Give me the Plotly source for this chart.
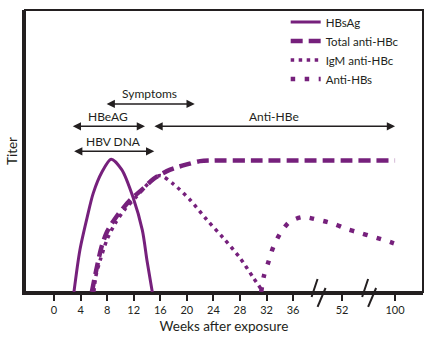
import plotly.graph_objects as go

# ---- data (weeks after exposure, relative titer) ----
hbsag_weeks = [3.0, 3.9, 5.0, 5.9, 7.2, 8.6, 10.2, 11.9, 13.3, 14.0, 14.8]
hbsag_titer = [0, 32, 57, 75, 91, 101, 93, 72, 47, 24, 0]

total_hbc_weeks = [5.7, 6.5, 7.2, 8.0, 9.5, 11.5, 13.5, 15.0, 17.5, 20.0, 22.0, 24.0, 30.0, 100.0]
total_hbc_titer = [0, 20, 35, 46, 58, 70, 79, 86, 93, 97, 99.5, 100, 100, 100]

igm_hbc_weeks = [6.0, 6.3, 7.0, 8.0, 9.2, 10.7, 12.5, 14.5, 16.0, 18.0, 20.5, 23.0, 25.5, 28.0, 30.0, 31.5]
igm_hbc_titer = [0, 12, 25, 40, 52, 63, 73, 84, 88.5, 82, 70, 55, 41, 26, 11, 0]

anti_hbs_weeks = [31.2, 31.6, 32.3, 33.0, 34.0, 35.4, 39.0, 44.0, 49.0, 56.0, 68.0, 80.0, 92.0, 99.0]
anti_hbs_titer = [0, 12, 23, 34, 44, 53, 57, 55, 52, 48, 45, 42, 39, 37]

# marker periods: label, start week, end week, level
period_labels = ["Symptoms", "HBeAG", "Anti-HBe", "HBV DNA"]
period_start = [7.7, 2.6, 14.9, 2.8]
period_end = [21.2, 13.7, 100.0, 15.1]
period_level = [143, 126, 126, 107]

tick_weeks = [0, 4, 8, 12, 16, 20, 24, 28, 32, 36, 52, 100]
break_weeks = [44.0, 75.6]

PURPLE = "#76207c"
INK = "#231f20"
FONT = "Lato"
PLOT_H = 283.0  # plot-area height in px, used for break-mark sizing


# broken time axis: linear to 36 weeks, compressed after
def axis_pos(w):
    if w <= 36:
        return w
    if w <= 52:
        return 36 + (w - 36) * (43.38 - 36) / 16
    return 43.38 + (w - 52) * (51.36 - 43.38) / 48


def to_axis(weeks):
    return [axis_pos(w) for w in weeks]


fig = go.Figure()

series = [
    ("HBsAg", hbsag_weeks, hbsag_titer, "solid", 3),
    ("Total anti-HBc", total_hbc_weeks, total_hbc_titer, "12px,6px", 4.5),
    ("IgM anti-HBc", igm_hbc_weeks, igm_hbc_titer, "3.5px,4.5px", 3.5),
    ("Anti-HBs", anti_hbs_weeks, anti_hbs_titer, "4.5px,9.5px", 4.5),
]
for name, wx, ty, dash, width in series:
    fig.add_trace(go.Scatter(
        x=to_axis(wx), y=ty, name=name, mode="lines",
        line=dict(color=PURPLE, width=width, dash=dash, shape="spline", smoothing=0.8),
        cliponaxis=False,
    ))

# double-headed period arrows with labels
for label, s, e, lvl in zip(period_labels, period_start, period_end, period_level):
    fig.add_annotation(
        x=axis_pos(e), y=lvl, ax=axis_pos(s), ay=lvl,
        xref="x", yref="y", axref="x", ayref="y",
        text="", showarrow=True, arrowside="end+start",
        arrowhead=2, arrowsize=1.1, arrowwidth=1.5, arrowcolor=INK,
    )
    fig.add_annotation(
        x=(axis_pos(s) + axis_pos(e)) / 2, y=lvl, xref="x", yref="y",
        text=label, showarrow=False, yshift=10,
        font=dict(family=FONT, size=12, color=INK),
    )

# axis break marks: a pair of slanted strokes at each gap
px_x = 1 / 6.639  # axis units per pixel (horizontal)
for bw in break_weeks:
    c = axis_pos(bw)
    for dx0, dx1, dy0, dy1 in [(-6, 0, -5, 13), (0, 8, -15, 4)]:
        fig.add_shape(
            type="line", xref="x", yref="paper",
            x0=c + dx0 * px_x, x1=c + dx1 * px_x,
            y0=dy0 / PLOT_H, y1=dy1 / PLOT_H,
            line=dict(color=INK, width=2),
        )

# thin top/right frame
fig.add_shape(type="rect", xref="paper", yref="paper", x0=0, x1=1, y0=0, y1=1,
              line=dict(color=INK, width=2), layer="below")

fig.update_xaxes(
    range=[-4.37, 55.57], showgrid=False, zeroline=False,
    showline=True, linewidth=3, linecolor=INK,
    tickmode="array", tickvals=to_axis(tick_weeks), ticktext=[str(t) for t in tick_weeks],
    ticks="outside", ticklen=6, tickwidth=2, tickcolor=INK,
    tickfont=dict(family=FONT, size=11, color=INK),
    title=dict(text="Weeks after exposure", font=dict(family=FONT, size=13.5, color=INK), standoff=7),
)
fig.update_yaxes(
    range=[0, 214.4], showgrid=False, zeroline=False,
    showline=True, linewidth=3, linecolor=INK, showticklabels=False, ticks="",
    title=dict(text="Titer", font=dict(family=FONT, size=13.5, color=INK), standoff=2),
)

fig.update_layout(
    width=438, height=345,
    margin=dict(l=25, r=15, t=9, b=53),
    plot_bgcolor="white", paper_bgcolor="white",
    showlegend=True,
    legend=dict(
        x=0.655, y=1.005, xanchor="left", yanchor="top",
        bgcolor="rgba(0,0,0,0)", font=dict(family=FONT, size=11.5, color=INK),
        itemwidth=30, tracegroupgap=0,
    ),
)

fig.write_html("out.html")
